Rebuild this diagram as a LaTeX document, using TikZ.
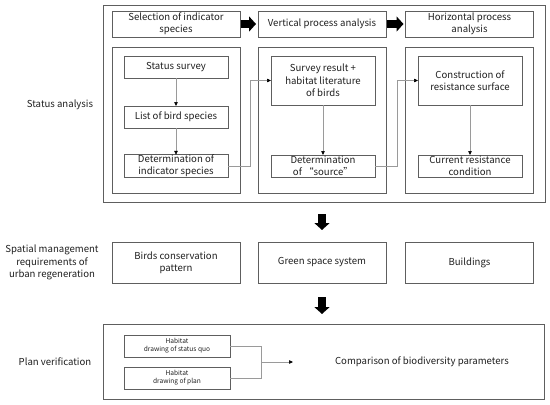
\documentclass[tikz,border=0pt]{standalone}
\usepackage{fontspec}
\setmainfont{Noto Sans CJK SC}
\usetikzlibrary{arrows.meta,positioning,calc}
\definecolor{framegray}{HTML}{5E5E5E}
\definecolor{linegray}{HTML}{9A9A9A}
\definecolor{textgray}{HTML}{1E1E1E}

\begin{document}
\begin{tikzpicture}[x=1pt, y=-1pt,
  every node/.style={font=\fontsize{9.6}{12.4}\selectfont, text=textgray},
  frame/.style={draw=framegray, line width=0.8pt, inner sep=0pt, outer sep=0pt},
  head/.style={frame, align=center, minimum width=128pt, minimum height=26pt},
  column/.style={frame, minimum width=128pt, minimum height=146pt},
  box/.style={frame, align=center, minimum width=104pt, minimum height=22pt},
  rowbox/.style={frame, align=center, minimum width=128pt, minimum height=41pt},
  habbox/.style={frame, align=center, minimum width=106pt, minimum height=22pt,
                 font=\fontsize{6.6}{8.2}\selectfont},
  conn/.style={draw=linegray, line width=0.6pt, -{Triangle[length=4pt,width=3.5pt,color=black]}},
  link/.style={draw=linegray, line width=0.6pt},
  bigarrow/.style={draw=black, line width=8pt, -{Triangle[length=7pt,width=15pt]}},
  sidelabel/.style={align=center}
]
\useasboundingbox (0,0) rectangle (550,405);

% status analysis
\node[frame, minimum width=442pt, minimum height=197pt] (outer) at (324,103.5) {};
\node[head] (hd1) at (176,24) {Selection of indicator\\species};
\node[head] (hd2) at (322,24) {Vertical process analysis};
\node[head] (hd3) at (469.5,24) {Horizontal process\\analysis};
\node[column] (col1) at (176,120) {};
\node[column] (col2) at (322,120) {};
\node[column] (col3) at (469.5,120) {};

\node[box] (survey) at (176,67) {Status survey};
\node[box] (birds) at (176,117) {List of bird species};
\node[box] (detind) at (176,166) {Determination of\\indicator species};
\node[box, minimum height=49pt] (result) at (323,80.5) {Survey result +\\habitat literature\\of birds};
\node[box] (detsrc) at (323,166) {Determination\\of\ “source”};
\node[box, minimum height=49pt] (surface) at (470,80.5) {Construction of\\resistance surface};
\node[box] (current) at (470,166) {Current resistance\\condition};

\node[sidelabel] (status) at (60,105) {Status analysis};

\draw[bigarrow, shorten <=1pt, shorten >=2pt] (hd1.east) -- (hd2.west);
\draw[bigarrow, shorten <=1pt, shorten >=2pt] (hd2.east) -- (hd3.west);

\draw[conn] (survey) -- (birds);
\draw[conn] (birds) -- (detind);
\draw[conn] (result) -- (detsrc);
\draw[conn] (surface) -- (current);
\draw[conn] (detind.east) -- ++(22,0) |- (result.west);
\draw[conn] (detsrc.east) -- ++(22,0) |- (surface.west);

% spatial management
\node[rowbox] (pattern) at (176,262.5) {Birds conservation\\pattern};
\node[rowbox] (green) at (322,262.5) {Green space system};
\node[rowbox] (build) at (469.5,262.5) {Buildings};
\node[sidelabel] (spatial) at (52,262.5) {Spatial management\\requirements of\\urban regeneration};

\draw[bigarrow, shorten <=12pt, shorten >=12pt] (outer.south -| green) -- (green.north);

% plan verification
\node[frame, minimum width=441pt, minimum height=75pt] (verif) at (323.5,361.5) {};
\node[habbox] (habnow) at (177,346) {Habitat\\drawing of status quo};
\node[habbox] (habplan) at (177,378) {Habitat\\drawing of plan};
\coordinate (join) at (261,362);
\coordinate (cmpin) at (293,362);
\node (compare) at (422,362) {Comparison of biodiversity parameters};
\node[sidelabel] (planver) at (55,362) {Plan verification};

\draw[bigarrow, shorten <=14pt, shorten >=10pt] (green.south) -- (verif.north -| green);
\draw[link] (habnow.east) -| (join);
\draw[link] (habplan.east) -| (join);
\draw[conn] (join) -- (cmpin);
\end{tikzpicture}
\end{document}
